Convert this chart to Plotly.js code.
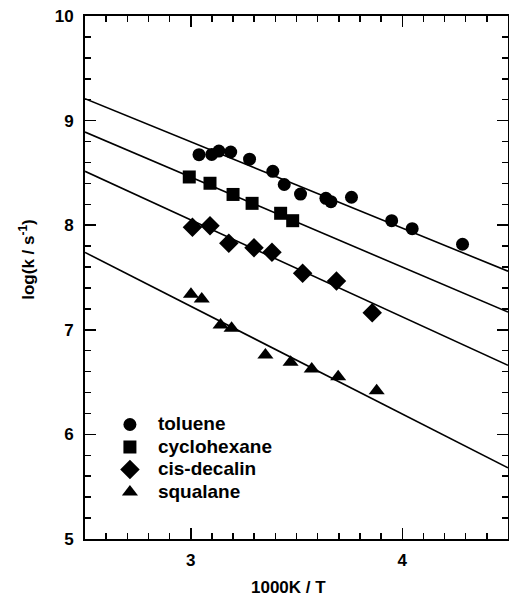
<!DOCTYPE html>
<html>
<head>
<meta charset="utf-8">
<script src="https://cdn.plot.ly/plotly-3.0.1.min.js"></script>
<style>html,body{margin:0;padding:0;background:#fff;}#chart{width:509px;height:599px;}</style>
</head>
<body>
<div id="chart"></div>
<script>
// Data
const tolueneX = [3.039, 3.099, 3.133, 3.189, 3.278, 3.388, 3.442, 3.519, 3.639, 3.663, 3.760, 3.950, 4.047, 4.285];
const tolueneY = [8.674, 8.676, 8.709, 8.700, 8.631, 8.515, 8.389, 8.298, 8.257, 8.225, 8.267, 8.043, 7.967, 7.818];

const cyclohexaneX = [2.993, 3.091, 3.200, 3.290, 3.425, 3.482];
const cyclohexaneY = [8.461, 8.401, 8.294, 8.209, 8.114, 8.043];

const decalinX = [3.008, 3.091, 3.180, 3.299, 3.384, 3.529, 3.689, 3.858];
const decalinY = [7.980, 7.995, 7.827, 7.785, 7.741, 7.540, 7.467, 7.163];

const squalaneX = [3.001, 3.052, 3.141, 3.193, 3.353, 3.472, 3.572, 3.697, 3.879];
const squalaneY = [7.339, 7.294, 7.046, 7.014, 6.759, 6.689, 6.625, 6.552, 6.418];

// Fit lines (end points at axis limits)
const fitX = [2.5, 4.5];
const tolueneFit = [9.21, 7.56];
const cyclohexaneFit = [8.89, 7.17];
const decalinFit = [8.515, 6.66];
const squalaneFit = [7.74, 5.68];

const names = ['toluene', 'cyclohexane', 'cis-decalin', 'squalane'];
const xTickVals = [3, 4];
const yTickVals = [5, 6, 7, 8, 9, 10];
const xTitle = '1000K / T';
const yTitle = 'log(k / s<sup>-1</sup>)';

const symbols = ['circle', 'square', 'diamond', 'triangle-up'];
const sizes = [13, 13, 15, 14];

const xs = [tolueneX, cyclohexaneX, decalinX, squalaneX];
const ys = [tolueneY, cyclohexaneY, decalinY, squalaneY];
const fits = [tolueneFit, cyclohexaneFit, decalinFit, squalaneFit];

const traces = [];
for (let i = 0; i < 4; i++) {
  traces.push({
    x: fitX, y: fits[i], mode: 'lines', type: 'scatter',
    line: {color: '#000', width: 1.6}, showlegend: false, hoverinfo: 'skip'
  });
}
for (let i = 0; i < 4; i++) {
  traces.push({
    x: xs[i], y: ys[i], mode: 'markers', type: 'scatter',
    name: '<span style="font-size:19px">' + names[i] + '</span>',
    marker: {symbol: symbols[i], size: sizes[i], color: '#000', line: {width: 0}}
  });
}

const fam = 'Liberation Sans, Arial, sans-serif';
const tickFont = {family: fam, size: 17, color: '#000', weight: 'bold'};

const layout = {
  width: 509, height: 599,
  margin: {l: 85, r: 1, t: 16, b: 60},
  paper_bgcolor: '#fff', plot_bgcolor: '#fff',
  font: {family: fam, size: 17, color: '#000', weight: 'bold'},
  showlegend: true,
  legend: {
    x: 0.04, y: 0.25, xanchor: 'left', yanchor: 'top',
    bgcolor: 'rgba(0,0,0,0)', borderwidth: 0,
    font: {family: fam, size: 15, color: '#000', weight: 'bold'},
    tracegroupgap: 0, itemwidth: 46
  },
  xaxis: {
    range: [2.5, 4.5], tickvals: xTickVals,
    ticks: 'inside', ticklen: 11, tickwidth: 1.5, tickcolor: '#000',
    showline: true, linewidth: 2, linecolor: '#000', mirror: 'ticks',
    showgrid: false, zeroline: false, ticklabelstandoff: 5,
    minor: {dtick: 0.1, tick0: 2.5, ticks: 'inside', ticklen: 6, tickwidth: 1.5, tickcolor: '#000', showgrid: false},
    tickfont: tickFont
  },
  yaxis: {
    range: [5, 10], tickvals: yTickVals,
    ticks: 'inside', ticklen: 11, tickwidth: 1.5, tickcolor: '#000',
    showline: true, linewidth: 2, linecolor: '#000', mirror: 'ticks',
    showgrid: false, zeroline: false, ticklabelstandoff: 6,
    minor: {dtick: 0.2, tick0: 5, ticks: 'inside', ticklen: 6, tickwidth: 1.5, tickcolor: '#000', showgrid: false},
    tickfont: tickFont
  },
  annotations: [
    {text: xTitle, xref: 'paper', yref: 'paper', x: 0.4806, y: -0.1135,
     xanchor: 'center', yanchor: 'bottom', showarrow: false, borderpad: 0,
     font: {family: fam, size: 17, color: '#000', weight: 'bold'}},
    {text: yTitle, xref: 'paper', yref: 'paper', x: -0.137, y: 0.534,
     xanchor: 'center', yanchor: 'middle', showarrow: false, textangle: -90,
     font: {family: fam, size: 17, color: '#000', weight: 'bold'}}
  ]
};

Plotly.newPlot('chart', traces, layout, {displayModeBar: false, staticPlot: true});
</script>
</body>
</html>
